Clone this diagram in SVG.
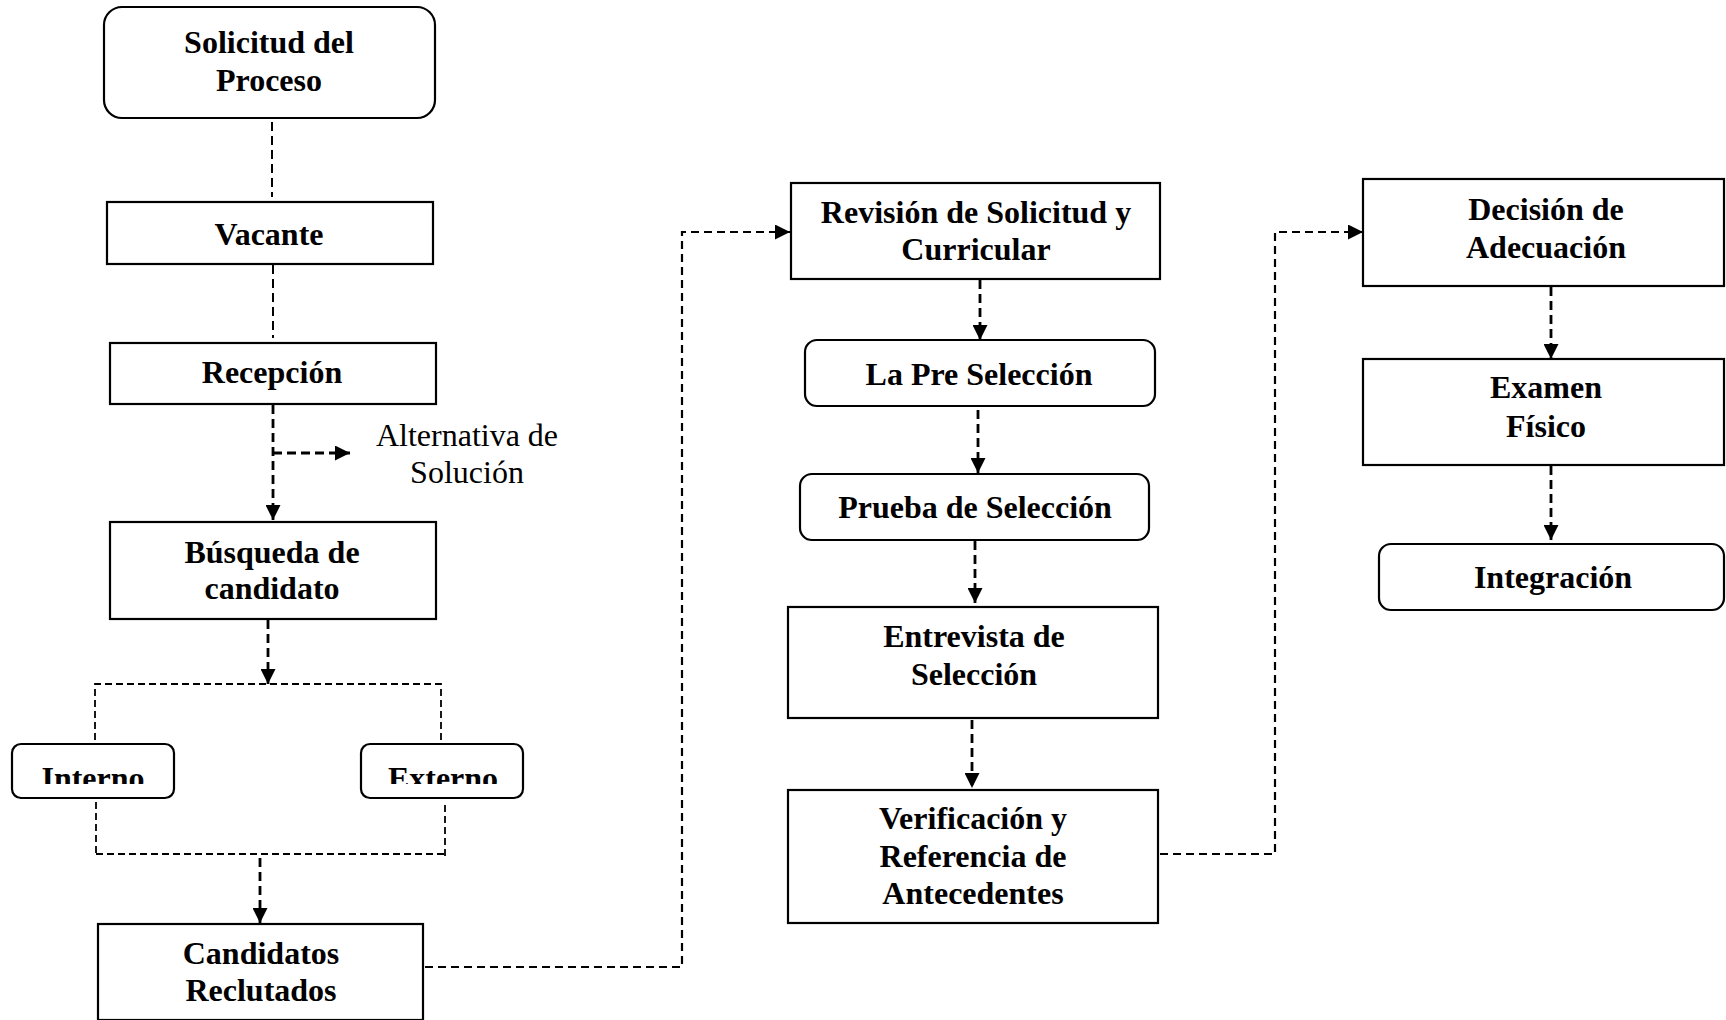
<svg xmlns="http://www.w3.org/2000/svg" width="1726" height="1020" viewBox="0 0 1726 1020">
  <style>
    .box { fill: #ffffff; stroke: #000000; stroke-width: 2.2; }
    .lbl { font-family: "Liberation Serif", "Times New Roman", serif; font-weight: bold; font-size: 32px; fill: #000000; text-anchor: middle; }
    .note { font-family: "Liberation Serif", "Times New Roman", serif; font-size: 32px; fill: #000000; text-anchor: middle; }
    .link { fill: none; stroke: #000000; stroke-width: 2; stroke-dasharray: 9 5; }
    .thin { fill: none; stroke: #000000; stroke-width: 1.8; stroke-dasharray: 7 4; }
    .arr { fill: none; stroke: #000000; stroke-width: 2.8; stroke-dasharray: 9 5; marker-end: url(#head); }
    .arr2 { fill: none; stroke: #000000; stroke-width: 2.2; stroke-dasharray: 8 5; marker-end: url(#head); }
  </style>
  <defs>
    <marker id="head" viewBox="0 0 10 10" refX="10" refY="5" markerUnits="userSpaceOnUse" markerWidth="15" markerHeight="15" orient="auto">
      <path d="M0,0 L10,5 L0,10 z" fill="#000000"/>
    </marker>
    <clipPath id="clip-interno"><rect x="12" y="744" width="162" height="40"/></clipPath>
    <clipPath id="clip-externo"><rect x="361" y="744" width="162" height="40"/></clipPath>
  </defs>
  <rect width="1726" height="1020" fill="#ffffff"/>

  <!-- connectors -->
  <g id="connectors">
    <path class="link" d="M272,122 V197"/>
    <path class="link" d="M273,265 V338"/>
    <path class="arr" d="M273,405 V520"/>
    <path class="arr" d="M273,453 H350"/>
    <path class="arr" d="M268,620 V684"/>
    <path class="thin" d="M95,740 V684 H441 V740"/>
    <path class="thin" d="M96,802 V856 M96,854 H445 M445,856 V802"/>
    <path class="arr" d="M260,858 V923"/>
    <path class="arr2" d="M425,967 H682 V232 H790"/>
    <path class="arr" d="M980,280 V340"/>
    <path class="arr" d="M978,410 V473"/>
    <path class="arr" d="M975,541 V603"/>
    <path class="arr" d="M972,720 V788"/>
    <path class="arr2" d="M1160,854 H1275 V232 H1363"/>
    <path class="arr" d="M1551,287 V359"/>
    <path class="arr" d="M1551,466 V540"/>
  </g>

  <!-- left column -->
  <g id="solicitud">
    <rect class="box" x="104" y="7" width="331" height="111" rx="18"/>
    <text class="lbl" x="269" y="53">Solicitud del</text>
    <text class="lbl" x="269" y="91">Proceso</text>
  </g>
  <g id="vacante">
    <rect class="box" x="107" y="202" width="326" height="62"/>
    <text class="lbl" x="269" y="245">Vacante</text>
  </g>
  <g id="recepcion">
    <rect class="box" x="110" y="343" width="326" height="61"/>
    <text class="lbl" x="272" y="383">Recepción</text>
  </g>
  <g id="alternativa">
    <text class="note" x="467" y="446">Alternativa de</text>
    <text class="note" x="467" y="483">Solución</text>
  </g>
  <g id="busqueda">
    <rect class="box" x="110" y="522" width="326" height="97"/>
    <text class="lbl" x="272" y="563">Búsqueda de</text>
    <text class="lbl" x="272" y="599">candidato</text>
  </g>
  <g id="interno">
    <rect class="box" x="12" y="744" width="162" height="54" rx="9"/>
    <text class="lbl" x="93" y="789" clip-path="url(#clip-interno)">Interno</text>
  </g>
  <g id="externo">
    <rect class="box" x="361" y="744" width="162" height="54" rx="9"/>
    <text class="lbl" x="443" y="789" clip-path="url(#clip-externo)">Externo</text>
  </g>
  <g id="candidatos">
    <rect class="box" x="98" y="924" width="325" height="96"/>
    <text class="lbl" x="261" y="964">Candidatos</text>
    <text class="lbl" x="261" y="1001">Reclutados</text>
  </g>

  <!-- middle column -->
  <g id="revision">
    <rect class="box" x="791" y="183" width="369" height="96"/>
    <text class="lbl" x="976" y="223">Revisión de Solicitud y</text>
    <text class="lbl" x="976" y="260">Curricular</text>
  </g>
  <g id="preseleccion">
    <rect class="box" x="805" y="340" width="350" height="66" rx="12"/>
    <text class="lbl" x="979" y="385">La Pre Selección</text>
  </g>
  <g id="prueba">
    <rect class="box" x="800" y="474" width="349" height="66" rx="12"/>
    <text class="lbl" x="975" y="518">Prueba de Selección</text>
  </g>
  <g id="entrevista">
    <rect class="box" x="788" y="607" width="370" height="111"/>
    <text class="lbl" x="974" y="647">Entrevista de</text>
    <text class="lbl" x="974" y="685">Selección</text>
  </g>
  <g id="verificacion">
    <rect class="box" x="788" y="790" width="370" height="133"/>
    <text class="lbl" x="973" y="829">Verificación y</text>
    <text class="lbl" x="973" y="867">Referencia de</text>
    <text class="lbl" x="973" y="904">Antecedentes</text>
  </g>

  <!-- right column -->
  <g id="decision">
    <rect class="box" x="1363" y="179" width="361" height="107"/>
    <text class="lbl" x="1546" y="220">Decisión de</text>
    <text class="lbl" x="1546" y="258">Adecuación</text>
  </g>
  <g id="examen">
    <rect class="box" x="1363" y="359" width="361" height="106"/>
    <text class="lbl" x="1546" y="398">Examen</text>
    <text class="lbl" x="1546" y="437">Físico</text>
  </g>
  <g id="integracion">
    <rect class="box" x="1379" y="544" width="345" height="66" rx="12"/>
    <text class="lbl" x="1553" y="588">Integración</text>
  </g>
</svg>
